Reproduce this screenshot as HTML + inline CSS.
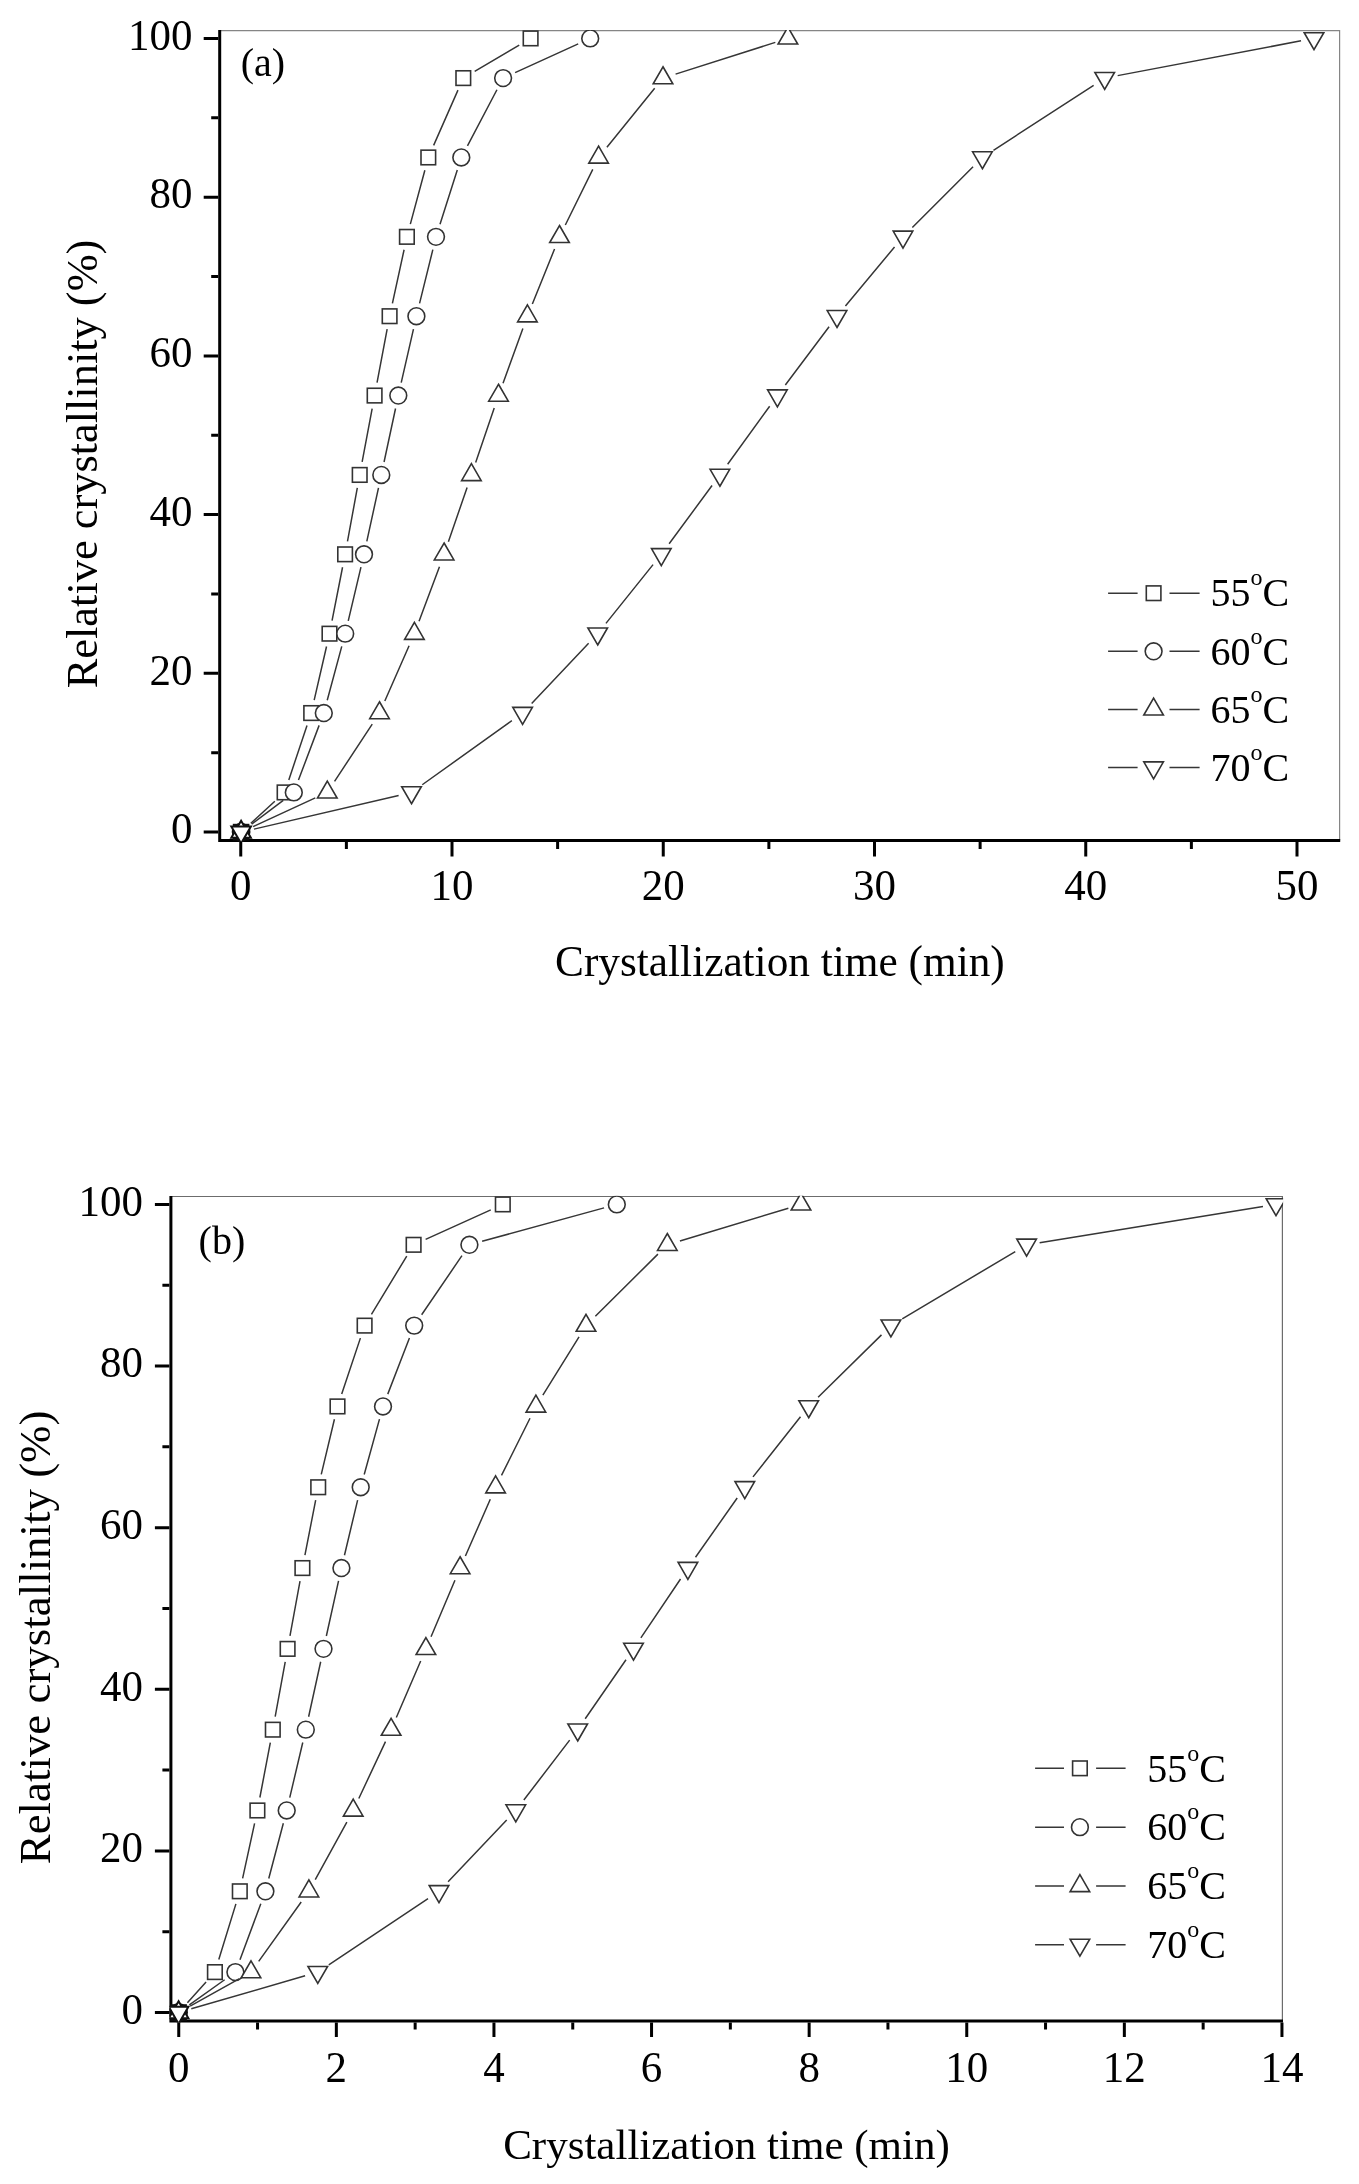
<!DOCTYPE html>
<html><head><meta charset="utf-8"><style>
html,body{margin:0;padding:0;background:#fff;}
svg{display:block;filter:blur(0.45px);}
</style></head><body>
<svg width="1359" height="2184" viewBox="0 0 1359 2184">
<rect width="1359" height="2184" fill="#fff"/>
<clipPath id="ca"><rect x="218.2" y="29.900000000000002" width="1122.1" height="812.1"/></clipPath>
<path d="M219.7,30.6H1339.6V840.5" fill="none" stroke="#858585" stroke-width="1.2"/>
<path d="M219.7,30.0V840.5H1340.1999999999998" fill="none" stroke="#000" stroke-width="3.0" stroke-linejoin="miter"/>
<g clip-path="url(#ca)">
<path d="M250.85,823.20L274.85,801.31M288.79,779.90L307.01,725.56M314.17,700.18L326.53,646.54M332.05,620.72L342.55,567.26M347.49,541.32L357.31,487.92M362.14,461.96L372.16,408.54M377.05,382.59L387.15,329.17M392.41,303.30L404.09,249.72M410.34,224.08L424.86,170.20M433.63,145.38L457.97,90.16M474.67,71.38L519.23,45.10" fill="none" stroke="#363636" stroke-width="1.5"/>
<g fill="#fff" stroke="#333333" stroke-width="1.6">
<rect x="233.80" y="824.80" width="14.6" height="14.6" stroke="#111" stroke-width="2.0"/>
<rect x="277.30" y="785.12" width="14.6" height="14.6"/>
<rect x="303.90" y="705.75" width="14.6" height="14.6"/>
<rect x="322.20" y="626.38" width="14.6" height="14.6"/>
<rect x="337.80" y="547.01" width="14.6" height="14.6"/>
<rect x="352.40" y="467.63" width="14.6" height="14.6"/>
<rect x="367.30" y="388.26" width="14.6" height="14.6"/>
<rect x="382.30" y="308.90" width="14.6" height="14.6"/>
<rect x="399.60" y="229.53" width="14.6" height="14.6"/>
<rect x="421.00" y="150.16" width="14.6" height="14.6"/>
<rect x="456.00" y="70.79" width="14.6" height="14.6"/>
<rect x="523.30" y="31.10" width="14.6" height="14.6"/>
</g>
<path d="M251.64,824.16L283.26,800.36M298.47,780.07L319.13,725.39M327.24,700.30L341.76,646.42M348.24,620.83L360.96,567.15M366.81,541.41L378.49,487.83M384.06,462.03L395.54,408.47M401.23,382.70L413.47,329.06M419.56,303.38L432.84,249.64M440.01,224.25L457.29,170.03M467.45,145.78L496.95,89.76M515.11,72.61L578.19,43.87" fill="none" stroke="#363636" stroke-width="1.5"/>
<g fill="#fff" stroke="#333333" stroke-width="1.6">
<circle cx="241.10" cy="832.10" r="8.4" stroke="#111" stroke-width="2.0"/>
<circle cx="293.80" cy="792.41" r="8.4"/>
<circle cx="323.80" cy="713.05" r="8.4"/>
<circle cx="345.20" cy="633.67" r="8.4"/>
<circle cx="364.00" cy="554.31" r="8.4"/>
<circle cx="381.30" cy="474.94" r="8.4"/>
<circle cx="398.30" cy="395.56" r="8.4"/>
<circle cx="416.40" cy="316.20" r="8.4"/>
<circle cx="436.00" cy="236.83" r="8.4"/>
<circle cx="461.30" cy="157.46" r="8.4"/>
<circle cx="503.10" cy="78.09" r="8.4"/>
<circle cx="590.20" cy="38.40" r="8.4"/>
</g>
<path d="M253.09,826.58L315.31,797.94M334.55,781.39L372.25,724.07M384.81,700.96L409.09,645.76M419.03,621.31L439.47,566.67M448.39,541.82L467.11,487.42M475.67,462.44L494.23,408.06M503.02,383.16L522.88,328.60M532.35,303.96L554.55,249.06M565.33,224.98L592.77,169.30M606.92,147.20L654.68,88.34M675.58,74.09L775.32,42.40" fill="none" stroke="#363636" stroke-width="1.5"/>
<g fill="#fff" stroke="#333333" stroke-width="1.6">
<path d="M241.10,820.78L250.90,837.76L231.30,837.76Z" stroke="#111" stroke-width="2.0"/>
<path d="M327.30,781.10L337.10,798.07L317.50,798.07Z"/>
<path d="M379.50,701.73L389.30,718.70L369.70,718.70Z"/>
<path d="M414.40,622.36L424.20,639.33L404.60,639.33Z"/>
<path d="M444.10,542.99L453.90,559.96L434.30,559.96Z"/>
<path d="M471.40,463.62L481.20,480.59L461.60,480.59Z"/>
<path d="M498.50,384.25L508.30,401.22L488.70,401.22Z"/>
<path d="M527.40,304.88L537.20,321.85L517.60,321.85Z"/>
<path d="M559.50,225.51L569.30,242.48L549.70,242.48Z"/>
<path d="M598.60,146.14L608.40,163.11L588.80,163.11Z"/>
<path d="M663.00,66.77L672.80,83.74L653.20,83.74Z"/>
<path d="M787.90,27.08L797.70,44.06L778.10,44.06Z"/>
</g>
<path d="M253.96,829.11L398.64,795.41M422.24,784.74L511.86,720.72M531.67,703.46L588.63,643.26M605.95,623.37L653.05,564.61M669.14,543.69L712.06,485.55M727.64,464.25L769.66,406.25M785.33,385.01L829.07,326.75M845.44,306.05L894.56,246.97M912.34,227.49L973.06,166.79M993.47,150.27L1093.63,85.27M1117.67,75.63L1301.03,40.86" fill="none" stroke="#363636" stroke-width="1.5"/>
<g fill="#fff" stroke="#333333" stroke-width="1.6">
<path d="M241.10,843.42L250.90,826.44L231.30,826.44Z" stroke="#111" stroke-width="2.0"/>
<path d="M411.50,803.73L421.30,786.76L401.70,786.76Z"/>
<path d="M522.60,724.36L532.40,707.39L512.80,707.39Z"/>
<path d="M597.70,644.99L607.50,628.02L587.90,628.02Z"/>
<path d="M661.30,565.62L671.10,548.65L651.50,548.65Z"/>
<path d="M719.90,486.25L729.70,469.28L710.10,469.28Z"/>
<path d="M777.40,406.88L787.20,389.91L767.60,389.91Z"/>
<path d="M837.00,327.51L846.80,310.54L827.20,310.54Z"/>
<path d="M903.00,248.14L912.80,231.17L893.20,231.17Z"/>
<path d="M982.40,168.77L992.20,151.80L972.60,151.80Z"/>
<path d="M1104.70,89.40L1114.50,72.43L1094.90,72.43Z"/>
<path d="M1314.00,49.72L1323.80,32.74L1304.20,32.74Z"/>
</g>
</g>
<path d="M240.75,842.0v14.5M346.38,842.0v7M452.00,842.0v14.5M557.62,842.0v7M663.25,842.0v14.5M768.88,842.0v7M874.50,842.0v14.5M980.12,842.0v7M1085.75,842.0v14.5M1191.38,842.0v7M1297.00,842.0v14.5M218.2,832.10h-14.5M218.2,752.73h-7M218.2,673.36h-14.5M218.2,593.99h-7M218.2,514.62h-14.5M218.2,435.25h-7M218.2,355.88h-14.5M218.2,276.51h-7M218.2,197.14h-14.5M218.2,117.77h-7M218.2,38.40h-14.5" stroke="#000" stroke-width="3" fill="none"/>
<g font-family='"Liberation Serif", serif' font-size="43" fill="#000">
<text transform="translate(240.75,900.3) scale(1,1.055)" text-anchor="middle">0</text>
<text transform="translate(452.00,900.3) scale(1,1.055)" text-anchor="middle">10</text>
<text transform="translate(663.25,900.3) scale(1,1.055)" text-anchor="middle">20</text>
<text transform="translate(874.50,900.3) scale(1,1.055)" text-anchor="middle">30</text>
<text transform="translate(1085.75,900.3) scale(1,1.055)" text-anchor="middle">40</text>
<text transform="translate(1297.00,900.3) scale(1,1.055)" text-anchor="middle">50</text>
<text transform="translate(192.60,843.40) scale(1,1.055)" text-anchor="end">0</text>
<text transform="translate(192.60,684.66) scale(1,1.055)" text-anchor="end">20</text>
<text transform="translate(192.60,525.92) scale(1,1.055)" text-anchor="end">40</text>
<text transform="translate(192.60,367.18) scale(1,1.055)" text-anchor="end">60</text>
<text transform="translate(192.60,208.44) scale(1,1.055)" text-anchor="end">80</text>
<text transform="translate(192.60,49.70) scale(1,1.055)" text-anchor="end">100</text>
</g>
<text x="240.8" y="75.8" font-family='"Liberation Serif", serif' font-size="40">(a)</text>
<text transform="translate(97.0,688.3) rotate(-90)" font-family='"Liberation Serif", serif' font-size="44.4">Relative crystallinity (%)</text>
<text x="779.9" y="975.8" text-anchor="middle" font-family='"Liberation Serif", serif' font-size="43.3">Crystallization time (min)</text>
<g fill="#fff" stroke="#363636" stroke-width="1.5">
<path d="M1108.1,593.20H1137.6M1169.5,593.20H1199.6"/>
<rect x="1146.30" y="585.90" width="14.6" height="14.6" stroke="#333333" stroke-width="1.6"/>
<path d="M1108.1,651.30H1137.6M1169.5,651.30H1199.6"/>
<circle cx="1153.60" cy="651.30" r="8.4" stroke="#333333" stroke-width="1.6"/>
<path d="M1108.1,709.40H1137.6M1169.5,709.40H1199.6"/>
<path d="M1153.60,698.08L1163.40,715.06L1143.80,715.06Z" stroke="#333333" stroke-width="1.6"/>
<path d="M1108.1,767.50H1137.6M1169.5,767.50H1199.6"/>
<path d="M1153.60,778.82L1163.40,761.84L1143.80,761.84Z" stroke="#333333" stroke-width="1.6"/>
</g>
<g font-family='"Liberation Serif", serif' font-size="40" fill="#000">
<text x="1210.4" y="606.40">55<tspan font-size="24" dy="-21.0">o</tspan><tspan dy="21.0">C</tspan></text>
<text x="1210.4" y="664.50">60<tspan font-size="24" dy="-21.0">o</tspan><tspan dy="21.0">C</tspan></text>
<text x="1210.4" y="722.60">65<tspan font-size="24" dy="-21.0">o</tspan><tspan dy="21.0">C</tspan></text>
<text x="1210.4" y="780.70">70<tspan font-size="24" dy="-21.0">o</tspan><tspan dy="21.0">C</tspan></text>
</g>
<clipPath id="cb"><rect x="169.4" y="1195.8" width="1113.7" height="826.7"/></clipPath>
<path d="M170.9,1196.5H1282.4V2021.0" fill="none" stroke="#6c6c6c" stroke-width="1.2"/>
<path d="M170.9,1195.9V2021.0H1283.0" fill="none" stroke="#000" stroke-width="3.0" stroke-linejoin="miter"/>
<g clip-path="url(#cb)">
<path d="M187.42,2002.68L206.08,1981.91M218.79,1959.48L235.91,1903.90M242.61,1878.39L254.59,1823.37M259.87,1797.51L270.33,1742.63M275.18,1716.68L285.22,1661.84M289.98,1635.87L300.02,1581.03M304.93,1555.09L315.67,1500.19M321.27,1474.40L334.43,1419.26M341.70,1393.91L360.40,1338.13M371.44,1314.33L406.76,1256.09M425.62,1239.36L490.78,1209.85" fill="none" stroke="#363636" stroke-width="1.5"/>
<g fill="#fff" stroke="#333333" stroke-width="1.6">
<rect x="171.30" y="2005.20" width="14.6" height="14.6" stroke="#111" stroke-width="2.0"/>
<rect x="207.60" y="1964.80" width="14.6" height="14.6"/>
<rect x="232.50" y="1883.99" width="14.6" height="14.6"/>
<rect x="250.10" y="1803.17" width="14.6" height="14.6"/>
<rect x="265.50" y="1722.37" width="14.6" height="14.6"/>
<rect x="280.30" y="1641.56" width="14.6" height="14.6"/>
<rect x="295.10" y="1560.75" width="14.6" height="14.6"/>
<rect x="310.90" y="1479.94" width="14.6" height="14.6"/>
<rect x="330.20" y="1399.13" width="14.6" height="14.6"/>
<rect x="357.30" y="1318.32" width="14.6" height="14.6"/>
<rect x="406.30" y="1237.51" width="14.6" height="14.6"/>
<rect x="495.50" y="1197.10" width="14.6" height="14.6"/>
</g>
<path d="M189.36,2004.85L224.64,1979.75M239.99,1959.72L260.81,1903.66M268.76,1878.52L283.34,1823.24M289.74,1797.63L302.76,1742.51M308.62,1716.77L320.68,1661.75M326.35,1635.97L338.55,1580.93M344.47,1555.21L357.63,1500.07M364.21,1474.51L379.49,1419.15M387.75,1394.11L409.45,1337.93M421.65,1314.72L461.95,1255.70M482.13,1241.32L604.07,1207.89" fill="none" stroke="#363636" stroke-width="1.5"/>
<g fill="#fff" stroke="#333333" stroke-width="1.6">
<circle cx="178.60" cy="2012.50" r="8.4" stroke="#111" stroke-width="2.0"/>
<circle cx="235.40" cy="1972.10" r="8.4"/>
<circle cx="265.40" cy="1891.29" r="8.4"/>
<circle cx="286.70" cy="1810.47" r="8.4"/>
<circle cx="305.80" cy="1729.66" r="8.4"/>
<circle cx="323.50" cy="1648.86" r="8.4"/>
<circle cx="341.40" cy="1568.05" r="8.4"/>
<circle cx="360.70" cy="1487.24" r="8.4"/>
<circle cx="383.00" cy="1406.43" r="8.4"/>
<circle cx="414.20" cy="1325.62" r="8.4"/>
<circle cx="469.40" cy="1244.81" r="8.4"/>
<circle cx="616.80" cy="1204.40" r="8.4"/>
</g>
<path d="M190.13,2006.07L239.47,1978.53M258.69,1961.36L301.21,1902.02M315.25,1879.71L346.85,1822.05M358.80,1798.52L385.50,1741.62M396.32,1717.54L420.68,1660.98M431.04,1636.70L454.96,1580.20M465.41,1555.96L490.29,1499.32M501.49,1475.42L530.01,1418.24M542.86,1395.21L579.04,1336.83M595.36,1316.31L657.94,1254.11M679.94,1240.99L788.36,1208.22" fill="none" stroke="#363636" stroke-width="1.5"/>
<g fill="#fff" stroke="#333333" stroke-width="1.6">
<path d="M178.60,2001.18L188.40,2018.16L168.80,2018.16Z" stroke="#111" stroke-width="2.0"/>
<path d="M251.00,1960.78L260.80,1977.75L241.20,1977.75Z"/>
<path d="M308.90,1879.97L318.70,1896.94L299.10,1896.94Z"/>
<path d="M353.20,1799.16L363.00,1816.13L343.40,1816.13Z"/>
<path d="M391.10,1718.35L400.90,1735.32L381.30,1735.32Z"/>
<path d="M425.90,1637.54L435.70,1654.51L416.10,1654.51Z"/>
<path d="M460.10,1556.73L469.90,1573.70L450.30,1573.70Z"/>
<path d="M495.60,1475.92L505.40,1492.89L485.80,1492.89Z"/>
<path d="M535.90,1395.11L545.70,1412.08L526.10,1412.08Z"/>
<path d="M586.00,1314.30L595.80,1331.27L576.20,1331.27Z"/>
<path d="M667.30,1233.49L677.10,1250.46L657.50,1250.46Z"/>
<path d="M801.00,1193.08L810.80,1210.06L791.20,1210.06Z"/>
</g>
<path d="M191.28,2008.82L305.12,1975.77M328.78,1964.77L428.02,1898.61M448.09,1881.72L506.71,1820.04M523.83,1800.00L569.67,1740.14M585.20,1718.80L626.00,1659.72M640.87,1637.90L680.53,1579.00M695.50,1557.25L737.20,1498.03M752.99,1476.88L800.51,1416.78M818.11,1397.17L881.49,1334.87M902.24,1318.86L1015.26,1251.56M1039.63,1242.69L1262.97,1206.51" fill="none" stroke="#363636" stroke-width="1.5"/>
<g fill="#fff" stroke="#333333" stroke-width="1.6">
<path d="M178.60,2023.82L188.40,2006.84L168.80,2006.84Z" stroke="#111" stroke-width="2.0"/>
<path d="M317.80,1983.41L327.60,1966.44L308.00,1966.44Z"/>
<path d="M439.00,1902.60L448.80,1885.63L429.20,1885.63Z"/>
<path d="M515.80,1821.79L525.60,1804.82L506.00,1804.82Z"/>
<path d="M577.70,1740.98L587.50,1724.01L567.90,1724.01Z"/>
<path d="M633.50,1660.17L643.30,1643.20L623.70,1643.20Z"/>
<path d="M687.90,1579.36L697.70,1562.39L678.10,1562.39Z"/>
<path d="M744.80,1498.55L754.60,1481.58L735.00,1481.58Z"/>
<path d="M808.70,1417.74L818.50,1400.77L798.90,1400.77Z"/>
<path d="M890.90,1336.93L900.70,1319.96L881.10,1319.96Z"/>
<path d="M1026.60,1256.12L1036.40,1239.15L1016.80,1239.15Z"/>
<path d="M1276.00,1215.72L1285.80,1198.74L1266.20,1198.74Z"/>
</g>
</g>
<path d="M178.75,2022.5v14.5M257.55,2022.5v7M336.35,2022.5v14.5M415.15,2022.5v7M493.95,2022.5v14.5M572.75,2022.5v7M651.55,2022.5v14.5M730.35,2022.5v7M809.15,2022.5v14.5M887.95,2022.5v7M966.75,2022.5v14.5M1045.55,2022.5v7M1124.35,2022.5v14.5M1203.15,2022.5v7M1281.95,2022.5v14.5M169.4,2012.50h-14.5M169.4,1931.69h-7M169.4,1850.88h-14.5M169.4,1770.07h-7M169.4,1689.26h-14.5M169.4,1608.45h-7M169.4,1527.64h-14.5M169.4,1446.83h-7M169.4,1366.02h-14.5M169.4,1285.21h-7M169.4,1204.40h-14.5" stroke="#000" stroke-width="3" fill="none"/>
<g font-family='"Liberation Serif", serif' font-size="43" fill="#000">
<text transform="translate(178.75,2081.5) scale(1,1.055)" text-anchor="middle">0</text>
<text transform="translate(336.35,2081.5) scale(1,1.055)" text-anchor="middle">2</text>
<text transform="translate(493.95,2081.5) scale(1,1.055)" text-anchor="middle">4</text>
<text transform="translate(651.55,2081.5) scale(1,1.055)" text-anchor="middle">6</text>
<text transform="translate(809.15,2081.5) scale(1,1.055)" text-anchor="middle">8</text>
<text transform="translate(966.75,2081.5) scale(1,1.055)" text-anchor="middle">10</text>
<text transform="translate(1124.35,2081.5) scale(1,1.055)" text-anchor="middle">12</text>
<text transform="translate(1281.95,2081.5) scale(1,1.055)" text-anchor="middle">14</text>
<text transform="translate(143.10,2023.80) scale(1,1.055)" text-anchor="end">0</text>
<text transform="translate(143.10,1862.18) scale(1,1.055)" text-anchor="end">20</text>
<text transform="translate(143.10,1700.56) scale(1,1.055)" text-anchor="end">40</text>
<text transform="translate(143.10,1538.94) scale(1,1.055)" text-anchor="end">60</text>
<text transform="translate(143.10,1377.32) scale(1,1.055)" text-anchor="end">80</text>
<text transform="translate(143.10,1215.70) scale(1,1.055)" text-anchor="end">100</text>
</g>
<text x="198.6" y="1254.3" font-family='"Liberation Serif", serif' font-size="40">(b)</text>
<text transform="translate(50.2,1864.3) rotate(-90)" font-family='"Liberation Serif", serif' font-size="44.9">Relative crystallinity (%)</text>
<text x="726.5" y="2158.8" text-anchor="middle" font-family='"Liberation Serif", serif' font-size="43.0">Crystallization time (min)</text>
<g fill="#fff" stroke="#363636" stroke-width="1.5">
<path d="M1035.1,1768.30H1064.0M1096.1,1768.30H1125.6"/>
<rect x="1072.60" y="1761.00" width="14.6" height="14.6" stroke="#333333" stroke-width="1.6"/>
<path d="M1035.1,1827.15H1064.0M1096.1,1827.15H1125.6"/>
<circle cx="1079.90" cy="1827.15" r="8.4" stroke="#333333" stroke-width="1.6"/>
<path d="M1035.1,1886.00H1064.0M1096.1,1886.00H1125.6"/>
<path d="M1079.90,1874.68L1089.70,1891.66L1070.10,1891.66Z" stroke="#333333" stroke-width="1.6"/>
<path d="M1035.1,1944.85H1064.0M1096.1,1944.85H1125.6"/>
<path d="M1079.90,1956.17L1089.70,1939.19L1070.10,1939.19Z" stroke="#333333" stroke-width="1.6"/>
</g>
<g font-family='"Liberation Serif", serif' font-size="40" fill="#000">
<text x="1147.3" y="1781.50">55<tspan font-size="24" dy="-21.0">o</tspan><tspan dy="21.0">C</tspan></text>
<text x="1147.3" y="1840.35">60<tspan font-size="24" dy="-21.0">o</tspan><tspan dy="21.0">C</tspan></text>
<text x="1147.3" y="1899.20">65<tspan font-size="24" dy="-21.0">o</tspan><tspan dy="21.0">C</tspan></text>
<text x="1147.3" y="1958.05">70<tspan font-size="24" dy="-21.0">o</tspan><tspan dy="21.0">C</tspan></text>
</g>
</svg>
</body></html>
